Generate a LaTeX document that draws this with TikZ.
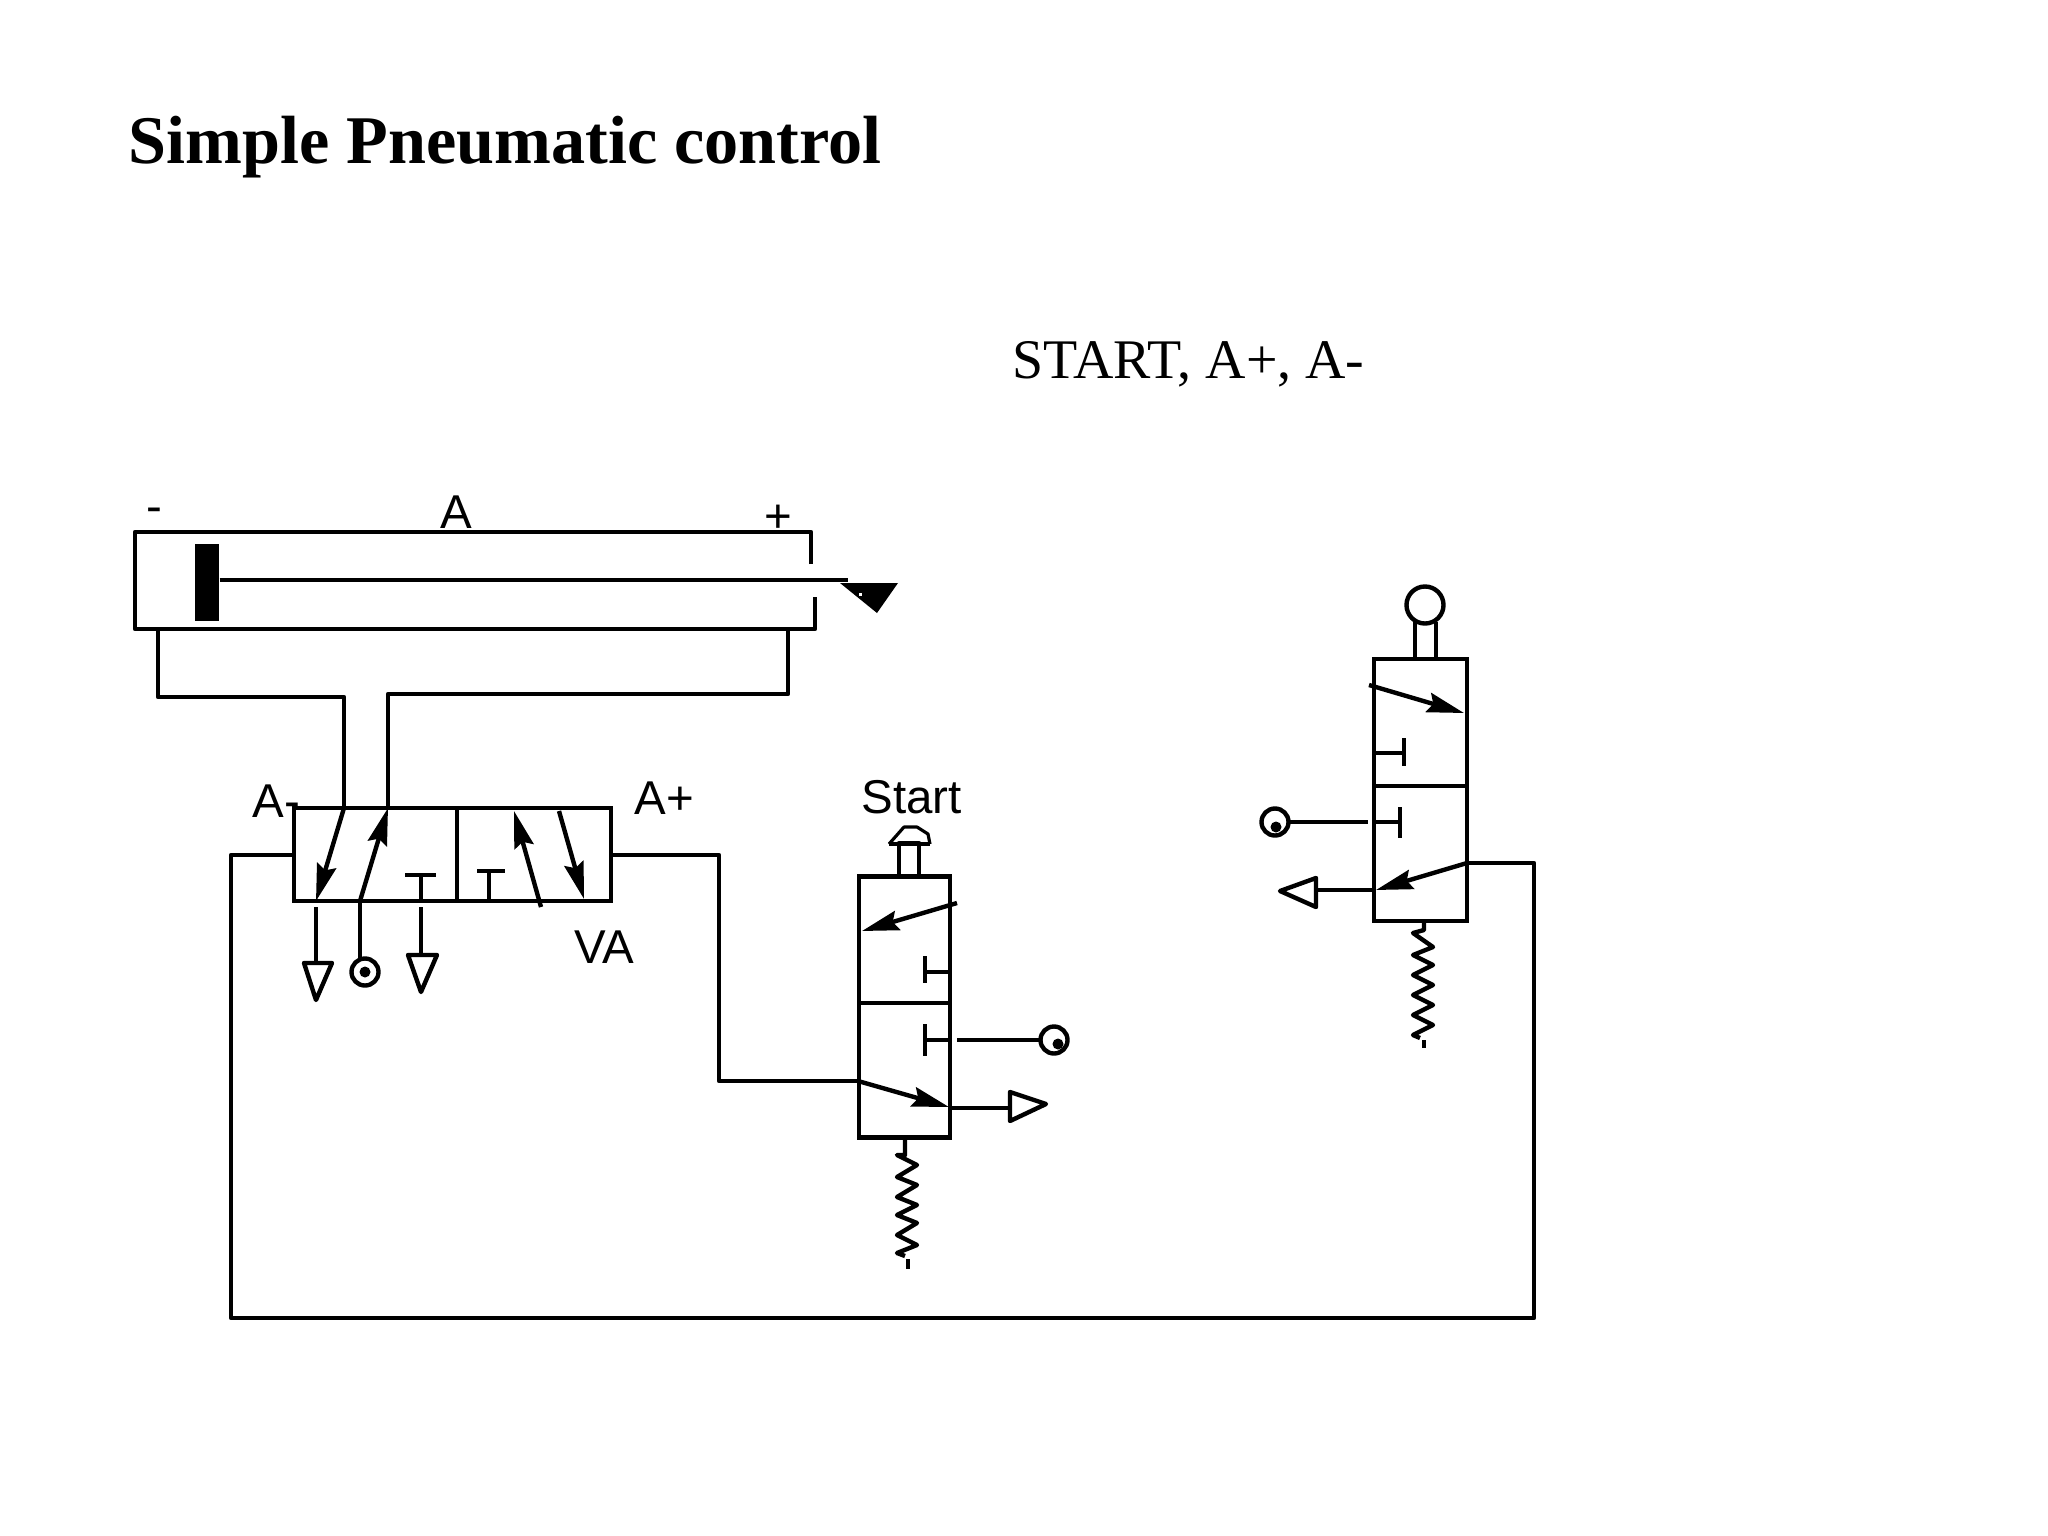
\documentclass[tikz,border=0pt]{standalone}
\usepackage{fontspec}
\setmainfont{Liberation Serif}
\newfontfamily\labelfont{Liberation Sans}
\usetikzlibrary{arrows.meta}
\tikzset{
  pipe/.style = {line width=1.25pt, line join=round},
  flow/.style = {pipe, -{Stealth[length=10.5pt,width=5.6pt,inset=1.4pt]}},
  body/.style = {draw, line width=1.3pt, inner sep=0pt, outer sep=0pt},
  supply/.style = {draw, circle, line width=1.25pt, fill=white, inner sep=0pt, outer sep=0pt, minimum size=.27cm},
  supplydot/.style = {circle, fill=black, inner sep=0pt, minimum size=.11cm},
  lab/.style = {anchor=base west, inner sep=0pt, font=\labelfont\fontsize{13.5}{16}\selectfont},
}
\begin{document}
\begin{tikzpicture}[x=.01cm, y=-.01cm]
  \useasboundingbox (0,0) rectangle (2048,1536);
  % headings
  \node[anchor=base west, inner sep=0pt, font=\bfseries\fontsize{19.4}{23}\selectfont] (title) at (128,163.5) {Simple Pneumatic control};
  \node[anchor=base west, inner sep=0pt, font=\fontsize{15.9}{18}\selectfont] (seq) at (1012,378.5) {START, A+, A-};
  % cylinder
  \coordinate (cyl1) at (811,564);
  \coordinate (cyl2) at (811,532);
  \coordinate (cyl3) at (135,532);
  \coordinate (cyl4) at (135,629);
  \coordinate (cyl5) at (815,629);
  \coordinate (cyl6) at (815,597);
  \draw[pipe] (cyl1)--(cyl2)--(cyl3)--(cyl4)--(cyl5)--(cyl6);
  \node[fill=black, inner sep=0pt, minimum width=.24cm, minimum height=.77cm] (piston) at (207,582.5) {};
  \coordinate (rodend) at (848,580);
  \draw[pipe] (piston.east |- rodend)--(rodend);
  \coordinate (cam1) at (840,583);
  \coordinate (cam2) at (898,583);
  \coordinate (cam3) at (877,613);
  \fill (cam1)--(cam2)--(cam3)--cycle;
  \fill[white] (858.5,592.5) rectangle (862,596);
  \node[lab] (laba) at (440,528) {A};
  \node[lab] (labminus) at (146,522) {-};
  \node[lab] (labplus) at (764,532) {+};
  % main valve
  \node[body, minimum width=3.17cm, minimum height=.93cm] (va) at (452.5,854.5) {};
  \coordinate (vamid1) at (457,808);
  \coordinate (vamid2) at (457,901);
  \draw[pipe] (vamid1)--(vamid2);
  \node[lab] (labam) at (252,817) {A-};
  \node[lab] (labap) at (634,814) {A+};
  \node[lab] (labva) at (574,963) {VA};
  % lines cylinder to valve
  \coordinate (p1) at (158,629);
  \coordinate (p2) at (158,697);
  \coordinate (p3) at (344,697);
  \coordinate (p4) at (344,808);
  \draw[pipe] (p1)--(p2)--(p3)--(p4);
  \coordinate (p5) at (788,629);
  \coordinate (p6) at (788,694);
  \coordinate (p7) at (388,694);
  \coordinate (p8) at (388,808);
  \draw[pipe] (p5)--(p6)--(p7)--(p8);
  % flows in main valve
  \coordinate (f1) at (316,901);
  \coordinate (f2) at (360,901);
  \coordinate (f3) at (541,907);
  \coordinate (f4) at (514,811);
  \coordinate (f5) at (559,811);
  \coordinate (f6) at (584,899);
  \draw[flow] (p4)--(f1);
  \draw[flow] (f2)--(p8);
  \draw[flow] (f3)--(f4);
  \draw[flow] (f5)--(f6);
  \coordinate (t1) at (421,901);
  \coordinate (t2) at (421,875);
  \coordinate (t3) at (405,875);
  \coordinate (t4) at (436,875);
  \draw[pipe] (t1)--(t2);
  \draw[pipe] (t3)--(t4);
  \coordinate (t5) at (489,901);
  \coordinate (t6) at (489,871);
  \coordinate (t7) at (477,871);
  \coordinate (t8) at (505,871);
  \draw[pipe] (t5)--(t6);
  \draw[pipe] (t7)--(t8);
  % ports under main valve
  \coordinate (e1) at (316,907);
  \coordinate (e2) at (316,963);
  \coordinate (e3) at (304,963);
  \coordinate (e4) at (332,963);
  \coordinate (e5) at (316,1000);
  \draw[pipe] (e1)--(e2);
  \draw[pipe] (e3)--(e4)--(e5)--cycle;
  \node[supply] (s1) at (365,972) {};
  \node[supplydot] (s1dot) at (365,972) {};
  \coordinate (s1top) at (360,959);
  \draw[pipe] (f2)--(s1top);
  \coordinate (e6) at (421,907);
  \coordinate (e7) at (421,955);
  \coordinate (e8) at (408,955);
  \coordinate (e9) at (437,955);
  \coordinate (e10) at (421,992);
  \draw[pipe] (e6)--(e7);
  \draw[pipe] (e8)--(e9)--(e10)--cycle;
  % start valve
  \node[body, minimum width=.91cm, minimum height=2.61cm] (start) at (904.5,1007) {};
  \coordinate (smid1) at (858,1003);
  \coordinate (smid2) at (951,1003);
  \draw[pipe] (smid1)--(smid2);
  \node[lab] (labstart) at (861,813) {Start};
  \coordinate (b1) at (899,876);
  \coordinate (b2) at (899,843);
  \coordinate (b3) at (919,843);
  \coordinate (b4) at (919,876);
  \draw[pipe] (b1)--(b2)--(b3)--(b4);
  \coordinate (b5) at (889,844);
  \coordinate (b6) at (930,844);
  \coordinate (b7) at (904,827);
  \coordinate (b8) at (917,827);
  \coordinate (b9) at (928,834);
  \draw[pipe, line width=1.4pt] (b5)--(b6);
  \draw[pipe, line width=.9pt] (b5)--(b7)--(b8)--(b9)--(b6);
  \coordinate (f7) at (957,903);
  \coordinate (f8) at (862,931);
  \draw[flow] (f7)--(f8);
  \coordinate (g1) at (951,972);
  \coordinate (g2) at (925,972);
  \coordinate (g3) at (925,956);
  \coordinate (g4) at (925,983);
  \draw[pipe] (g1)--(g2);
  \draw[pipe] (g3)--(g4);
  \coordinate (g5) at (951,1040);
  \coordinate (g6) at (925,1040);
  \coordinate (g7) at (925,1024);
  \coordinate (g8) at (925,1056);
  \draw[pipe] (g5)--(g6);
  \draw[pipe] (g7)--(g8);
  \node[supply] (s2) at (1054,1040) {};
  \node[supplydot] (s2dot) at (1058,1044) {};
  \coordinate (s2in) at (957,1040);
  \draw[pipe] (s2in)--(s2);
  \coordinate (f9) at (858,1081);
  \coordinate (f10) at (949,1107);
  \draw[flow] (f9)--(f10);
  \coordinate (x1) at (951,1108);
  \coordinate (x2) at (1010,1108);
  \coordinate (x3) at (1010,1092);
  \coordinate (x4) at (1010,1121);
  \coordinate (x5) at (1046,1104);
  \draw[pipe] (x1)--(x2);
  \draw[pipe] (x3)--(x4)--(x5)--cycle;
  \draw[pipe] (905,1138)--(905,1155)--(897,1155)--(917,1165)--(897,1177)--(917,1185)--(897,1197)--(917,1205)--(897,1215)--(917,1223)--(897,1235)--(917,1245)--(897,1253)--(905,1256);
  \coordinate (st1) at (908,1259);
  \coordinate (st2) at (908,1269);
  \draw[pipe] (st1)--(st2);
  % roller valve
  \node[body, minimum width=.93cm, minimum height=2.62cm] (roller) at (1420.5,790) {};
  \coordinate (rmid1) at (1373,786);
  \coordinate (rmid2) at (1468,786);
  \draw[pipe] (rmid1)--(rmid2);
  \node[draw, circle, line width=1.25pt, inner sep=0pt, outer sep=0pt, minimum size=.37cm] (ball) at (1425,605) {};
  \coordinate (r1) at (1415,658);
  \coordinate (r2) at (1415,622);
  \coordinate (r3) at (1436,658);
  \coordinate (r4) at (1436,622);
  \draw[pipe] (r1)--(r2);
  \draw[pipe] (r3)--(r4);
  \coordinate (f11) at (1369,685);
  \coordinate (f12) at (1464,713);
  \draw[flow] (f11)--(f12);
  \coordinate (h1) at (1373,753);
  \coordinate (h2) at (1404,753);
  \coordinate (h3) at (1404,738);
  \coordinate (h4) at (1404,766);
  \draw[pipe] (h1)--(h2);
  \draw[pipe] (h3)--(h4);
  \coordinate (h5) at (1373,822);
  \coordinate (h6) at (1400,822);
  \coordinate (h7) at (1400,807);
  \coordinate (h8) at (1400,838);
  \draw[pipe] (h5)--(h6);
  \draw[pipe] (h7)--(h8);
  \node[supply] (s3) at (1275,822) {};
  \node[supplydot] (s3dot) at (1276,827) {};
  \coordinate (s3in) at (1368,822);
  \draw[pipe] (s3)--(s3in);
  \coordinate (f13) at (1467,863);
  \coordinate (f14) at (1376,890);
  \draw[flow] (f13)--(f14);
  \coordinate (y1) at (1373,890);
  \coordinate (y2) at (1316,890);
  \coordinate (y3) at (1316,878);
  \coordinate (y4) at (1316,907);
  \coordinate (y5) at (1280,891);
  \draw[pipe] (y1)--(y2);
  \draw[pipe] (y3)--(y4)--(y5)--cycle;
  \draw[pipe] (1424,922)--(1424,930)--(1413,933)--(1433,947)--(1413,955)--(1433,965)--(1413,975)--(1433,985)--(1413,995)--(1433,1005)--(1413,1015)--(1433,1025)--(1413,1035)--(1420,1038);
  \coordinate (rt1) at (1424,1040);
  \coordinate (rt2) at (1424,1048);
  \draw[pipe] (rt1)--(rt2);
  % signal lines
  \coordinate (l1) at (293,855);
  \coordinate (l2) at (231,855);
  \coordinate (l3) at (231,1318);
  \coordinate (l4) at (1534,1318);
  \coordinate (l5) at (1534,863);
  \draw[pipe] (l1)--(l2)--(l3)--(l4)--(l5)--(f13);
  \coordinate (l6) at (612,855);
  \coordinate (l7) at (719,855);
  \coordinate (l8) at (719,1081);
  \draw[pipe] (l6)--(l7)--(l8)--(f9);
\end{tikzpicture}
\end{document}
